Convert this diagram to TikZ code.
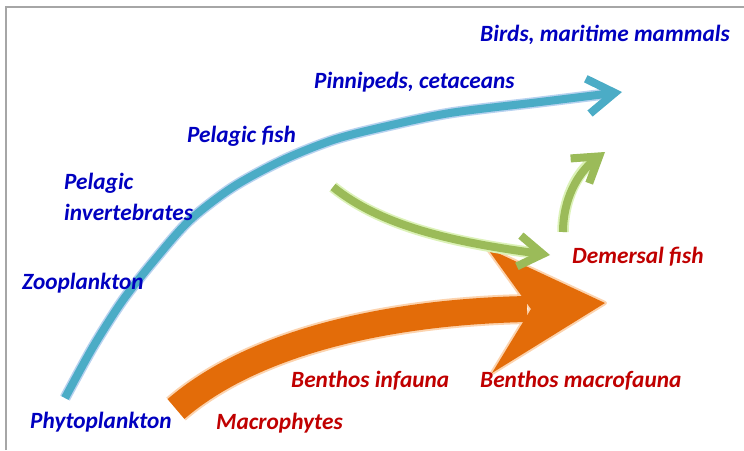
\documentclass[tikz,border=0pt]{standalone}
\usepackage{fontspec}
\setmainfont{Carlito}
\usetikzlibrary{arrows.meta}
\definecolor{blueMain}{HTML}{4BACC6}
\definecolor{blueGlow}{HTML}{B8D2F0}
\definecolor{greenMain}{HTML}{9BBB59}
\definecolor{greenGlow}{HTML}{DCF2B8}
\definecolor{orangeMain}{HTML}{E36C09}
\definecolor{orangeGlow}{HTML}{FCD3AE}
\definecolor{textBlue}{HTML}{0000C0}
\definecolor{textRed}{HTML}{C00000}
\definecolor{frameGray}{HTML}{A6A6A6}
\begin{document}
\begin{tikzpicture}[x=1pt,y=-1pt,
  lbl/.style={inner sep=0pt, anchor=base west, font=\fontsize{23.3}{28}\selectfont\bfseries\itshape},
  bluelbl/.style={lbl, text=textBlue},
  redlbl/.style={lbl, text=textRed},
  blueglow/.style={draw=blueGlow, line width=11pt, shorten >=18pt},
  bluearrow/.style={draw=blueMain, line width=8pt, -{Straight Barb[length=27pt,width=35pt]}},
  greenglow/.style={draw=greenGlow, line width=11.5pt, shorten >=16pt},
  greenarrow/.style={draw=greenMain, line width=8pt, -{Straight Barb[length=24pt,width=31pt]}}]
\useasboundingbox (0,0) rectangle (744,450);
\fill[white] (0,0) rectangle (744,450);
\draw[frameGray, line width=2pt] (6,450) -- (6,7) -- (744,7);

% blue arrow
\draw[blueglow] plot[smooth] coordinates {(65,398) (93,347) (123,300) (157,257) (190,220) (233,187) (283,160) (333,140) (383,127) (450,113) (540,102) (622,92)};
\draw[bluearrow] plot[smooth] coordinates {(65,398) (93,347) (123,300) (157,257) (190,220) (233,187) (283,160) (333,140) (383,127) (450,113) (540,102) (622,92)};

% orange arrow
\coordinate (o0) at (176,409);
\coordinate (o1) at (527,309);
\draw[orangeGlow, line width=30pt] (o0) .. controls (250,345) and (380,312) .. (o1);
\draw[orangeGlow, line width=4pt, line join=round] (605,303) -- (487,248) -- (531,309) -- (492,373) -- cycle;
\draw[orangeMain, line width=26pt] (o0) .. controls (250,345) and (380,312) .. (o1);
\fill[orangeMain] (605,303) -- (487,248) -- (531,309) -- (492,373) -- cycle;

% green arrows
\coordinate (g0) at (333,187);
\coordinate (g1) at (550,255);
\coordinate (h0) at (563,232);
\coordinate (h1) at (605,152);
\draw[greenglow] (g0) .. controls (380,225) and (450,242) .. (g1);
\draw[greenarrow] (g0) .. controls (380,225) and (450,242) .. (g1);
\draw[greenglow] (h0) .. controls (563,200) and (577,173) .. (h1);
\draw[greenarrow] (h0) .. controls (563,200) and (577,173) .. (h1);

% labels
\node[bluelbl] (birds) at (480,41) {Birds, maritime mammals};
\node[bluelbl] (pinn) at (314,88) {Pinnipeds, cetaceans};
\node[bluelbl] (pfish) at (187,142) {Pelagic fish};
\node[bluelbl] (pinv1) at (64,189) {Pelagic};
\node[bluelbl] (pinv2) at (64,220) {invertebrates};
\node[bluelbl] (zoo) at (22,289) {Zooplankton};
\node[bluelbl] (phyto) at (30,428) {Phytoplankton};
\node[redlbl] (macro) at (216,429) {Macrophytes};
\node[redlbl] (binf) at (291,387) {Benthos infauna};
\node[redlbl] (bmac) at (480,387) {Benthos macrofauna};
\node[redlbl] (dem) at (572,263) {Demersal fish};
\end{tikzpicture}
\end{document}
